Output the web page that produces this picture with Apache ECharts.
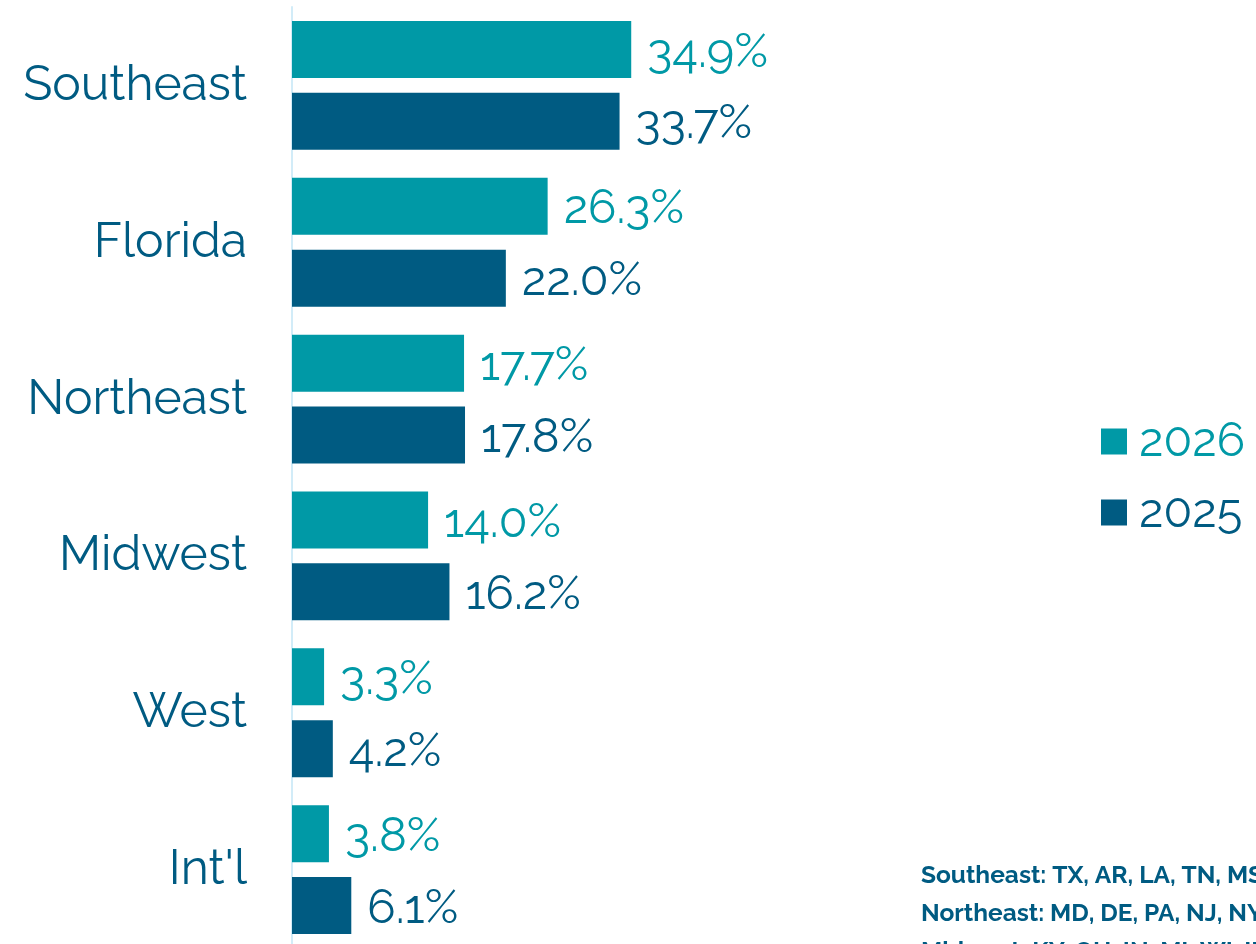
<!DOCTYPE html>
<html>
<head>
<meta charset="utf-8">
<script src="https://cdn.jsdelivr.net/npm/echarts@6/dist/echarts.min.js"></script>
<style>
  html, body { margin: 0; padding: 0; background: #fff; }
  #chart { width: 1256px; height: 944px; }
</style>
</head>
<body>
<div id="chart"></div>
<script>
// regions, top to bottom
var regions = ['Southeast', 'Florida', 'Northeast', 'Midwest', 'West', "Int'l"];
var share2026 = [34.9, 26.3, 17.7, 14.0, 3.3, 3.8];
var share2025 = [33.7, 22.0, 17.8, 16.2, 4.2, 6.1];
var notes = [
    'Southeast: TX, AR, LA, TN, MS, AL, GA, SC, NC, VA',
    'Northeast: MD, DE, PA, NJ, NY, CT, RI, MA, VT, NH, ME',
    'Midwest: KY, OH, IN, MI, WI, IL, MN, IA, MO'
];

var teal = '#0099a6';
var navy = '#005b82';
var font = 'Raleway, Lato, "Open Sans", sans-serif';

var chart = echarts.init(document.getElementById('chart'));

function barLabel(color) {
    return {
        show: true,
        position: 'right',
        distance: 16,
        offset: [0, 3],
        color: color,
        fontFamily: font,
        fontSize: 47,
        fontWeight: 400,
        formatter: function (p) { return p.value.toFixed(1) + '%'; }
    };
}

var option = {
    animation: false,
    grid: {
        left: 292, top: 7, width: 486, height: 941,
        containLabel: false, outerBoundsMode: 'none'
    },
    xAxis: {
        type: 'value', min: 0, max: 50,
        show: false
    },
    yAxis: {
        type: 'category',
        data: regions,
        inverse: true,
        axisLine: { show: true, lineStyle: { color: '#d2ecf8', width: 2 } },
        axisTick: { show: false },
        axisLabel: {
            color: navy, fontFamily: font, fontSize: 48, fontWeight: 400, margin: 45
        }
    },
    legend: {
        orient: 'vertical',
        left: 1101, top: 418,
        padding: 0,
        itemWidth: 26, itemHeight: 26, itemGap: 24,
        icon: 'rect',
        textStyle: { fontFamily: font, fontSize: 47, fontWeight: 400, padding: [0, 0, 0, 7] },
        data: [
            { name: '2026', textStyle: { color: teal } },
            { name: '2025', textStyle: { color: navy } }
        ]
    },
    series: [
        {
            name: '2026', type: 'bar', data: share2026,
            barWidth: 57, barGap: '26%',
            itemStyle: { color: teal },
            label: barLabel(teal)
        },
        {
            name: '2025', type: 'bar', data: share2025,
            barWidth: 57, barGap: '26%',
            itemStyle: { color: navy },
            label: barLabel(navy)
        }
    ],
    graphic: [{
        type: 'text', left: 921, top: 857,
        style: {
            text: notes.join('\n'),
            fill: navy,
            font: 'bold 24.5px ' + font,
            lineHeight: 38
        }
    }]
};

chart.setOption(option);
</script>
</body>
</html>
